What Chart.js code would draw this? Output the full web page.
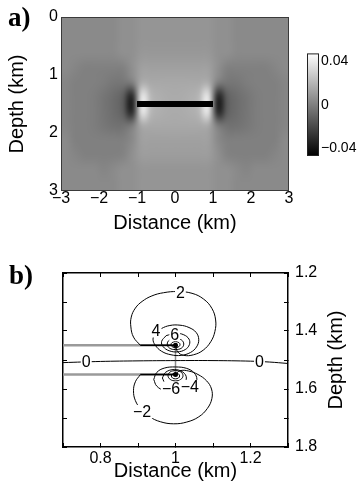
<!DOCTYPE html>
<html lang="en">
<head>
<meta charset="UTF-8">
<title>Strain around a crack</title>
<script src="https://cdn.jsdelivr.net/npm/chart.js"></script>
<style>
  body { margin: 0; background: #fff; }
  #fig { position: relative; width: 362px; height: 485px; overflow: hidden; }
  #fig canvas { position: absolute; }
  .panel-tag { position: absolute; z-index: 2; font: bold 27px/27px "Liberation Serif", "Times New Roman", serif; }
</style>
</head>
<body>
<div id="fig">
  <canvas id="fieldChart" width="300" height="240" style="left:0;top:0"></canvas>
  <canvas id="colorbar" width="72" height="130" style="left:290px;top:40px"></canvas>
  <canvas id="contourChart" width="362" height="235" style="left:0;top:250px"></canvas>
  <div class="panel-tag" style="left:8px;top:4px">a)</div>
  <div class="panel-tag" style="left:9px;top:262px">b)</div>
</div>

<script>
// ---------- panel a: strain field ----------
const distanceTicksA = [-3, -2, -1, 0, 1, 2, 3];
const depthTicksA = [0, 1, 2, 3];
const gridDistance = [-3, 3];   // km, extent of the grid below
const gridDepth = [0, 3];
const colorLimits = [-0.047, 0.047];
const colorbarTicks = [-0.04, -0.02, 0, 0.02, 0.04];
const colorbarLabels = [-0.04, 0, 0.04];
const crackA = [[-1, 1.5], [1, 1.5]];

// 0.25 km cells, top row = 0-0.25 km depth, columns from -3 km to 3 km
const strainRows = [
  [.004,.004,.004,.004,.004,.004,.006,.006,.008,.008,.008,.008,.008,.008,.008,.008,.006,.006,.004,.004,.004,.004,.004,.004],
  [.004,.004,.004,.004,.004,.004,.006,.006,.008,.008,.008,.008,.008,.008,.008,.008,.006,.006,.004,.004,.004,.004,.004,.004],
  [.004,.004,.004,.004,.004,.004,.006,.006,.009,.009,.009,.009,.009,.009,.009,.009,.006,.006,.004,.004,.004,.004,.004,.004],
  [.004,.002,0,0,0,0,0,.006,.012,.012,.012,.012,.012,.012,.012,.012,.006,0,0,0,0,0,.002,.004],
  [.002,0,0,0,-.001,-.003,-.003,.001,.016,.015,.015,.015,.015,.015,.015,.016,.001,-.003,-.003,-.001,0,0,0,.002],
  [.002,0,0,-.001,-.004,-.007,-.012,-.036,.04,.02,.017,.016,.016,.017,.02,.04,-.036,-.012,-.007,-.004,-.001,0,0,.002],
  [.002,0,0,-.001,-.004,-.007,-.012,-.036,.04,.02,.017,.016,.016,.017,.02,.04,-.036,-.012,-.007,-.004,-.001,0,0,.002],
  [.002,0,0,-.001,-.003,-.005,-.005,0,.015,.015,.015,.015,.015,.015,.015,.015,0,-.005,-.005,-.003,-.001,0,0,.002],
  [.004,0,0,0,0,0,0,.004,.012,.012,.012,.012,.012,.012,.012,.012,.004,0,0,0,0,0,0,.004],
  [.004,.002,0,0,0,0,.001,.006,.011,.011,.011,.011,.011,.011,.011,.011,.006,.001,0,0,0,0,.002,.004],
  [.004,.004,.004,.004,.002,.004,.006,.006,.008,.008,.008,.008,.008,.008,.008,.008,.006,.006,.004,.002,.004,.004,.004,.004],
  [.004,.004,.004,.004,.004,.004,.006,.006,.008,.008,.008,.008,.008,.008,.008,.008,.006,.006,.004,.004,.004,.004,.004,.004]
];

// ---------- panel b: contours near the tips (km) ----------
const distanceTicksB = [0.7, 0.8, 0.9, 1.0, 1.1, 1.2, 1.3];
const distanceLabelsB = [0.8, 1.0, 1.2];
const depthTicksB = [1.2, 1.3, 1.4, 1.5, 1.6, 1.7, 1.8];
const depthLabelsB = [1.2, 1.4, 1.6, 1.8];

const fractureUpper = [[0.7, 1.449], [1.0, 1.449]];
const fractureLower = [[0.7, 1.55], [1.0, 1.55]];
const fractureStep = [[1.0, 1.449], [1.0, 1.55]];
const tips = [[1.0, 1.449], [1.0, 1.55]];

const contourOnCrackUpper = [[0.906, 1.449], [1.0, 1.449]];
const contourOnCrackLower = [[0.906, 1.55], [1.0, 1.55]];
const contourZero = [[0.7, 1.509], [0.8, 1.505], [0.9, 1.503], [1.0, 1.502], [1.1, 1.502], [1.2, 1.504], [1.25, 1.507], [1.3, 1.512]];
const contourPlus2 = [[0.906, 1.449], [0.888, 1.421], [0.881, 1.386], [0.882, 1.352], [0.893, 1.321], [0.911, 1.298], [0.937, 1.279],
  [0.968, 1.268], [1.005, 1.264], [1.044, 1.270], [1.075, 1.290], [1.097, 1.322], [1.107, 1.362], [1.105, 1.402],
  [1.094, 1.437], [1.074, 1.466], [1.048, 1.482], [1.022, 1.484], [1.006, 1.472], [1.0, 1.449]];
const contourPlus4 = [[0.946, 1.409], [0.962, 1.392], [0.985, 1.381], [1.012, 1.380], [1.036, 1.388], [1.055, 1.405], [1.062, 1.430],
  [1.056, 1.455], [1.040, 1.474], [1.015, 1.484], [0.988, 1.482], [0.963, 1.470], [0.946, 1.449], [0.940, 1.428], [0.946, 1.409]];
const contourPlus6 = [[0.975, 1.416], [1.0, 1.408], [1.022, 1.413], [1.036, 1.428], [1.037, 1.447], [1.026, 1.464], [1.005, 1.472],
  [0.983, 1.468], [0.967, 1.454], [0.963, 1.436], [0.975, 1.416]];
const contourPlus8 = [[1.0, 1.426], [1.016, 1.431], [1.022, 1.445], [1.016, 1.459], [1.0, 1.464], [0.984, 1.459], [0.978, 1.445], [0.984, 1.431], [1.0, 1.426]];
const contourPlus10 = [[1.0, 1.436], [1.009, 1.440], [1.012, 1.447], [1.009, 1.454], [1.0, 1.458], [0.991, 1.454], [0.988, 1.447], [0.991, 1.440], [1.0, 1.436]];
const contourMinus2 = [[0.906, 1.551], [0.893, 1.575], [0.888, 1.606], [0.893, 1.640], [0.908, 1.670], [0.930, 1.695], [0.960, 1.713],
  [0.995, 1.720], [1.030, 1.714], [1.062, 1.696], [1.085, 1.667], [1.097, 1.633], [1.096, 1.600], [1.083, 1.572],
  [1.060, 1.550], [1.035, 1.538], [1.012, 1.537], [1.0, 1.551]];
const contourMinus4 = [[0.942, 1.567], [0.950, 1.543], [0.970, 1.528], [1.0, 1.524], [1.030, 1.529], [1.050, 1.545], [1.057, 1.567],
  [1.050, 1.590], [1.030, 1.606], [1.0, 1.610], [0.970, 1.605], [0.950, 1.590], [0.942, 1.567]];
const contourMinus6 = [[0.965, 1.562], [0.974, 1.542], [0.997, 1.533], [1.020, 1.542], [1.029, 1.562], [1.020, 1.583], [0.997, 1.591], [0.974, 1.583], [0.965, 1.562]];
const contourMinus8 = [[1.0, 1.536], [1.014, 1.541], [1.020, 1.554], [1.014, 1.567], [1.0, 1.572], [0.986, 1.567], [0.980, 1.554], [0.986, 1.541], [1.0, 1.536]];
const contourMinus10 = [[1.0, 1.545], [1.008, 1.548], [1.011, 1.555], [1.008, 1.562], [1.0, 1.565], [0.992, 1.562], [0.989, 1.555], [0.992, 1.548], [1.0, 1.545]];

const contourLabelText = ['2', '4', '6', '0', '0', '\u22122', '\u22124', '\u22126'];
const contourLabelAt = [[1.013, 1.268], [0.948, 1.398], [0.998, 1.411], [0.762, 1.506], [1.224, 1.505], [0.911, 1.679], [1.038, 1.593], [0.988, 1.599]];

// ---------- helpers ----------
Chart.defaults.font.family = '"Liberation Sans", Arial, Helvetica, sans-serif';
Chart.defaults.color = '#000';

const toPoints = arr => arr.map(([x, y]) => ({x, y}));
const minusSign = v => String(v).replace('-', '\u2212');
const near = (list, v) => list.some(l => Math.abs(l - v) < 1e-6);
const fixedTicks = list => axis => { axis.ticks = list.map(v => ({value: v})); };

function grayFor(v) {
  const t = (v - colorLimits[0]) / (colorLimits[1] - colorLimits[0]);
  return Math.max(0, Math.min(255, Math.round(t * 255)));
}

const heatmapPlugin = {
  id: 'heatmap',
  beforeDatasetsDraw(chart) {
    const {ctx, scales: {x, y}} = chart;
    const rows = strainRows.length, cols = strainRows[0].length;
    const off = document.createElement('canvas');
    off.width = cols;
    off.height = rows;
    const octx = off.getContext('2d');
    const img = octx.createImageData(cols, rows);
    strainRows.forEach((row, r) => row.forEach((v, c) => {
      const i = (r * cols + c) * 4;
      const g = grayFor(v);
      img.data[i] = g; img.data[i + 1] = g; img.data[i + 2] = g; img.data[i + 3] = 255;
    }));
    octx.putImageData(img, 0, 0);
    const left = x.getPixelForValue(gridDistance[0]), right = x.getPixelForValue(gridDistance[1]);
    const top = y.getPixelForValue(gridDepth[0]), bottom = y.getPixelForValue(gridDepth[1]);
    ctx.save();
    ctx.imageSmoothingEnabled = true;
    ctx.imageSmoothingQuality = 'high';
    ctx.drawImage(off, left, top, right - left, bottom - top);
    ctx.restore();
  }
};

const colorbarPlugin = {
  id: 'colorbarFill',
  beforeDatasetsDraw(chart) {
    const {ctx, chartArea: a, scales: {y}} = chart;
    const grad = ctx.createLinearGradient(0, y.getPixelForValue(colorLimits[0]), 0, y.getPixelForValue(colorLimits[1]));
    grad.addColorStop(0, 'rgb(0,0,0)');
    grad.addColorStop(1, 'rgb(255,255,255)');
    ctx.save();
    ctx.fillStyle = grad;
    ctx.fillRect(a.left, a.top, a.right - a.left, a.bottom - a.top);
    ctx.restore();
  }
};

const framePlugin = {
  id: 'frame',
  afterDraw(chart, args, opts) {
    const {ctx, chartArea: a} = chart;
    ctx.save();
    ctx.strokeStyle = opts.color || '#333';
    ctx.lineWidth = 1;
    ctx.strokeRect(a.left + 0.5, a.top + 0.5, a.right - a.left - 1, a.bottom - a.top - 1);
    ctx.restore();
  }
};

const contourLabelPlugin = {
  id: 'contourLabels',
  afterDatasetsDraw(chart) {
    const {ctx, scales: {x, y}} = chart;
    ctx.save();
    ctx.font = '16px "Liberation Sans", Arial, sans-serif';
    ctx.textAlign = 'center';
    ctx.textBaseline = 'middle';
    contourLabelText.forEach((t, i) => {
      const px = x.getPixelForValue(contourLabelAt[i][0]);
      const py = y.getPixelForValue(contourLabelAt[i][1]);
      const w = ctx.measureText(t).width + 2;
      ctx.fillStyle = '#fff';
      ctx.fillRect(px - w / 2, py - 7, w, 14);
      ctx.fillStyle = '#000';
      ctx.fillText(t, px, py + 1);
    });
    ctx.restore();
  }
};

const rightTitlePlugin = {
  id: 'rightTitle',
  afterDraw(chart) {
    const {ctx, chartArea: a, scales: {y}} = chart;
    ctx.save();
    ctx.font = '20px "Liberation Sans", Arial, sans-serif';
    ctx.fillStyle = '#000';
    ctx.textAlign = 'center';
    ctx.textBaseline = 'middle';
    ctx.translate(y.right - 26, (a.top + a.bottom) / 2);
    ctx.rotate(-Math.PI / 2);
    ctx.fillText('Depth (km)', 0, 0);
    ctx.restore();
  }
};

const quiet = { legend: { display: false }, tooltip: { enabled: false } };

// ---------- panel a ----------
new Chart(document.getElementById('fieldChart'), {
  type: 'scatter',
  data: {
    datasets: [{
      data: toPoints(crackA), showLine: true, borderColor: '#000', borderWidth: 6,
      borderCapStyle: 'butt', pointRadius: 0
    }]
  },
  options: {
    responsive: false, animation: false, events: [],
    layout: { padding: { left: 0, top: 17, right: 11, bottom: 0 } },
    plugins: { ...quiet, frame: { color: '#3a3a3a' } },
    scales: {
      x: {
        type: 'linear', position: 'bottom', min: -3, max: 3,
        afterBuildTicks: fixedTicks(distanceTicksA),
        afterFit: a => { a.height = 49; },
        grid: { display: false, drawTicks: false },
        border: { display: false },
        ticks: { font: { size: 16 }, padding: -2, autoSkip: false, maxRotation: 0, callback: v => minusSign(v) },
        title: { display: true, text: 'Distance (km)', font: { size: 20 }, padding: { top: 0, bottom: 5 } }
      },
      y: {
        type: 'linear', position: 'left', reverse: true, min: 0, max: 3,
        afterBuildTicks: fixedTicks(depthTicksA),
        afterFit: a => { a.width = 61; },
        grid: { display: false, drawTicks: false },
        border: { display: false },
        ticks: { font: { size: 16 }, padding: 3, autoSkip: false, callback: v => String(v) },
        title: { display: true, text: 'Depth (km)', font: { size: 20 }, padding: { top: 5, bottom: 0 } }
      }
    }
  },
  plugins: [heatmapPlugin, framePlugin]
});

// ---------- colorbar ----------
new Chart(document.getElementById('colorbar'), {
  type: 'scatter',
  data: { datasets: [] },
  options: {
    responsive: false, animation: false, events: [],
    layout: { padding: { left: 17, top: 13, right: 0, bottom: 14 } },
    plugins: { ...quiet, frame: { color: '#222' } },
    scales: {
      x: { display: false, min: 0, max: 1 },
      y: {
        type: 'linear', position: 'right', min: colorLimits[0], max: colorLimits[1],
        afterBuildTicks: fixedTicks(colorbarTicks),
        afterFit: a => { a.width = 43; },
        grid: { display: true, drawOnChartArea: false, drawTicks: true, tickLength: -3, color: '#333' },
        border: { display: false },
        ticks: { font: { size: 14 }, padding: 5, autoSkip: false,
                 callback: v => near(colorbarLabels, v) ? minusSign(+v.toFixed(2)) : '' }
      }
    }
  },
  plugins: [colorbarPlugin, framePlugin]
});

// ---------- panel b ----------
const line = (pts, color, width, tension, extra) => Object.assign({
  data: toPoints(pts), showLine: true, borderColor: color, borderWidth: width,
  pointRadius: 0, tension: tension, fill: false
}, extra || {});

const inwardGrid = { display: true, drawOnChartArea: false, drawTicks: true, tickLength: -4, color: '#000', lineWidth: 1 };
const frameBorder = { display: true, color: '#000', width: 1.5 };

new Chart(document.getElementById('contourChart'), {
  type: 'scatter',
  data: {
    datasets: [
      line(tips, '#000', 1, 0, { showLine: false, pointRadius: 2.5, pointBackgroundColor: '#000', pointBorderWidth: 0 }),
      line(contourPlus10, '#000', 1, 0.4),
      line(contourPlus8, '#000', 1, 0.4),
      line(contourPlus6, '#000', 1, 0.4),
      line(contourPlus4, '#000', 1, 0.4),
      line(contourPlus2, '#000', 1, 0.4),
      line(contourMinus10, '#000', 1, 0.4),
      line(contourMinus8, '#000', 1, 0.4),
      line(contourMinus6, '#000', 1, 0.4),
      line(contourMinus4, '#000', 1, 0.4),
      line(contourMinus2, '#000', 1, 0.4),
      line(contourZero, '#000', 1, 0.4),
      line(contourOnCrackUpper, '#000', 1.5, 0),
      line(contourOnCrackLower, '#000', 1.5, 0),
      line(fractureUpper, '#9a9a9a', 2.5, 0),
      line(fractureLower, '#9a9a9a', 2.5, 0),
      line(fractureStep, '#8a8a8a', 1.5, 0)
    ]
  },
  options: {
    responsive: false, animation: false, events: [],
    layout: { padding: { left: 63, top: 23, right: 0, bottom: 0 } },
    plugins: quiet,
    scales: {
      x: {
        type: 'linear', position: 'bottom', min: 0.7, max: 1.3,
        afterBuildTicks: fixedTicks(distanceTicksB),
        afterFit: a => { a.height = 38; },
        grid: inwardGrid, border: frameBorder,
        ticks: { font: { size: 16 }, padding: 6, autoSkip: false, maxRotation: 0,
                 callback: v => near(distanceLabelsB, v) ? String(+v.toFixed(1)) : '' },
        title: { display: true, text: 'Distance (km)', font: { size: 20 }, padding: { top: 0, bottom: 2 } }
      },
      x2: {
        type: 'linear', position: 'top', min: 0.7, max: 1.3,
        afterBuildTicks: fixedTicks(distanceTicksB),
        afterFit: a => { a.height = 0; },
        grid: inwardGrid, border: frameBorder, ticks: { display: false }
      },
      y: {
        type: 'linear', position: 'right', reverse: true, min: 1.2, max: 1.8,
        afterBuildTicks: fixedTicks(depthTicksB),
        afterFit: a => { a.width = 74; },
        grid: inwardGrid, border: frameBorder,
        ticks: { font: { size: 16 }, padding: 11, autoSkip: false,
                 callback: v => near(depthLabelsB, v) ? v.toFixed(1) : '' }
      },
      y2: {
        type: 'linear', position: 'left', reverse: true, min: 1.2, max: 1.8,
        afterBuildTicks: fixedTicks(depthTicksB),
        afterFit: a => { a.width = 0; },
        grid: inwardGrid, border: frameBorder, ticks: { display: false }
      }
    }
  },
  plugins: [contourLabelPlugin, rightTitlePlugin]
});
</script>
</body>
</html>
